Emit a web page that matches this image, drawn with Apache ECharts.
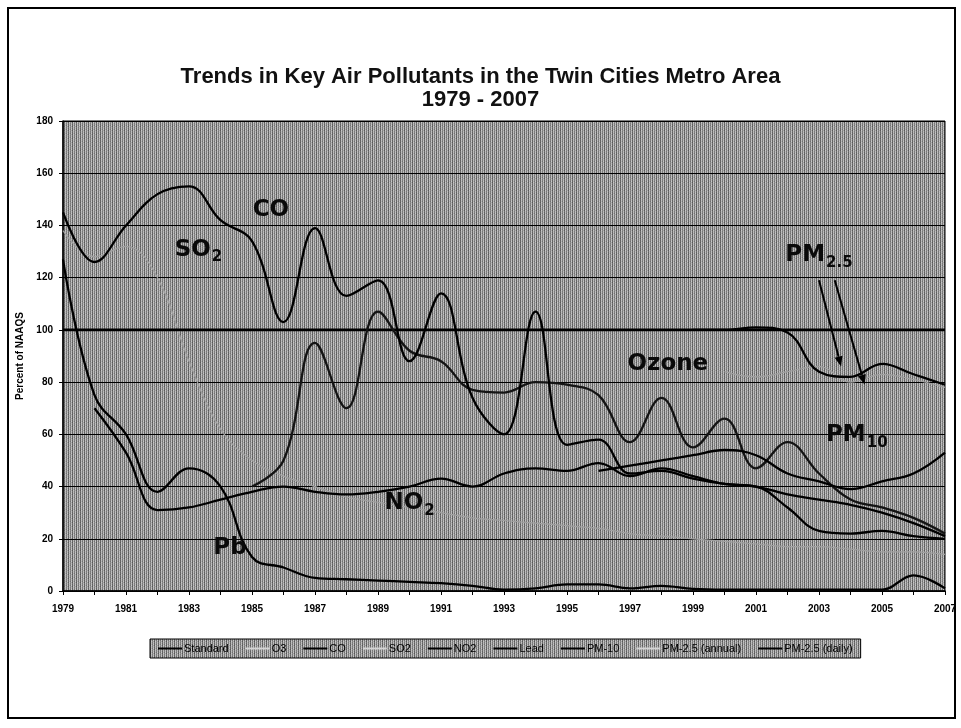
<!DOCTYPE html>
<html>
<head>
<meta charset="utf-8">
<script src="https://cdn.jsdelivr.net/npm/echarts/dist/echarts.min.js"></script>
<style>
html,body{margin:0;padding:0;background:#fff;}
#c{width:961px;height:728px;}
</style>
</head>
<body>
<div id="c"></div>
<script>
const years = ['1979','1980','1981','1982','1983','1984','1985','1986','1987','1988','1989','1990','1991','1992','1993','1994','1995','1996','1997','1998','1999','2000','2001','2002','2003','2004','2005','2006','2007'];
const yTicks = [0,20,40,60,80,100,120,140,160,180];

const standard = [100,100,100,100,100,100,100,100,100,100,100,100,100,100,100,100,100,100,100,100,100,100,100,100,100,100,100,100,100];
const o3 = [null,null,null,null,null,null,40,50,95,70,107,92,88,77,76,80,79,75,57,74,55,66,47,57,45,35,32,28,22];
const co = [145,126,140,152,155,142,134,103,139,113,119,88,114,74,60,107,56,58,45,46,43,41,40,37,35,33,30,26,21];
const so2 = [138,128,132,120,88,62,50,44,40,36,34,32,30,28,27,26,25,24,22,21,20,19,18,17,17,16,15,15,14];
const no2 = [null,70,53,31,32,35,38,40,38,37,38,40,43,40,45,47,46,49,44,47,44,41,40,32,23,22,23,21,20];
const lead = [127,75,60,38,47,40,13,9,5,4.5,4,3.5,3,2,0.5,1,2.5,2.5,1,2,0.8,0.5,0.5,0.5,0.5,0.5,0.5,6,1];
const pm10 = [null,null,null,null,null,null,null,null,null,null,null,null,null,null,null,null,null,46,48,50,52,54,52,45,42,39,42,45,53];
const pm25annual = [null,null,null,null,null,null,null,null,null,null,null,null,null,null,null,null,null,null,null,null,null,84,82,84,86,80,83,81,78];
const pm25daily = [null,null,null,null,null,null,null,null,null,null,null,null,null,null,null,null,null,null,null,null,100,100,101,99,84,82,87,83,79];

const seriesNames = ['Standard','O3','CO','SO2','NO2','Lead','PM-10','PM-2.5 (annual)','PM-2.5 (daily)'];

// annotation labels placed in data coordinates (year, percent)
const annotations = [
  {main:'CO', sub:'', year:1985.6, value:145},
  {main:'SO', sub:'2', year:1983.3, value:130},
  {main:'Ozone', sub:'', year:1998.2, value:86},
  {main:'NO', sub:'2', year:1990.0, value:33},
  {main:'Pb', sub:'', year:1984.3, value:15.5},
  {main:'PM', sub:'2.5', year:2003.0, value:128},
  {main:'PM', sub:'10', year:2004.2, value:59}
];
const arrows = [
  {from:[2003.0,119], to:[2003.7,86]},
  {from:[2003.5,119], to:[2004.45,79]}
];

// halftone-like texture for the scanned grey fills
function makeTexture() {
  const tones = [
    [0x60,0xc0,0x80,0xb8],
    [0x68,0xb0,0x70,0xc8],
    [0x58,0xc8,0x88,0xa8],
    [0x70,0xb8,0x78,0xc0]
  ];
  const c = document.createElement('canvas');
  c.width = 4; c.height = 4;
  const ctx = c.getContext('2d');
  for (let r = 0; r < 4; r++) {
    for (let k = 0; k < 4; k++) {
      const v = tones[r][k];
      ctx.fillStyle = 'rgb(' + v + ',' + v + ',' + v + ')';
      ctx.fillRect(k, r, 1, 1);
    }
  }
  return c;
}
const texture = makeTexture();

const chart = echarts.init(document.getElementById('c'), null, {renderer:'canvas'});
const FONT = 'Liberation Sans';

function lineSeries(name, data, lineColor, legendColor, width, smooth, z) {
  return {
    name: name, type: 'line', data: data,
    smooth: smooth, showSymbol: false, symbol: 'none',
    connectNulls: false, z: z,
    lineStyle: {color: lineColor, width: width},
    itemStyle: {color: legendColor},
    emphasis: {disabled: true}
  };
}

const option = {
  backgroundColor: '#ffffff',
  animation: false,
  title: {
    text: 'Trends in Key Air Pollutants in the Twin Cities Metro Area\n1979 - 2007',
    left: 'center', top: 60,
    textStyle: {fontFamily: FONT, fontSize: 22, fontWeight: 'bold', lineHeight: 23, color: '#111'}
  },
  grid: {
    left: 63, right: 16, top: 121, bottom: 137,
    show: true, backgroundColor: {image: texture, repeat: 'repeat'}, borderColor: '#000', borderWidth: 1
  },
  xAxis: {
    type: 'category', data: years, boundaryGap: false,
    axisLine: {lineStyle: {color: '#000', width: 1.5}},
    axisTick: {show: true, interval: 0, length: 4, lineStyle: {color: '#000'}},
    axisLabel: {interval: 1, fontFamily: FONT, fontWeight: 'bold', fontSize: 10, color: '#000', margin: 13},
    splitLine: {show: false}
  },
  yAxis: {
    type: 'value', min: yTicks[0], max: yTicks[yTicks.length-1], interval: 20,
    name: 'Percent of NAAQS', nameLocation: 'middle', nameGap: 36,
    nameTextStyle: {fontFamily: FONT, fontWeight: 'bold', fontSize: 10, color: '#000'},
    axisLine: {show: true, lineStyle: {color: '#000', width: 1.5}},
    axisTick: {show: true, length: 4, lineStyle: {color: '#000'}},
    axisLabel: {fontFamily: FONT, fontWeight: 'bold', fontSize: 10, color: '#000', margin: 10},
    splitLine: {show: true, lineStyle: {color: '#000', width: 1}}
  },
  legend: {
    data: seriesNames,
    left: 150, top: 639,
    backgroundColor: {image: texture, repeat: 'repeat'}, borderColor: '#000', borderWidth: 1,
    padding: [4, 8], itemGap: 17, itemWidth: 24, itemHeight: 2, icon: 'rect',
    textStyle: {fontFamily: FONT, fontSize: 11, color: '#000', padding: [0,0,0,-3]},
    selectedMode: false
  },
  series: [
    lineSeries('Standard', standard, '#000', '#000', 2.6, false, 3),
    lineSeries('O3', o3, '#141414', '#d4d4d4', 2.3, 0.4, 4),
    lineSeries('CO', co, '#000', '#000', 2.3, 0.4, 5),
    lineSeries('SO2', so2, '#a0a0a0', '#d4d4d4', 1.2, 0.4, 2),
    lineSeries('NO2', no2, '#000', '#000', 2.3, 0.4, 5),
    lineSeries('Lead', lead, '#000', '#000', 2.3, 0.4, 5),
    lineSeries('PM-10', pm10, '#000', '#000', 2.3, 0.4, 5),
    lineSeries('PM-2.5 (annual)', pm25annual, '#a0a0a0', '#d4d4d4', 1.2, 0.4, 2),
    lineSeries('PM-2.5 (daily)', pm25daily, '#000', '#000', 2.3, 0.4, 5)
  ]
};
chart.setOption(option);

function toPx(year, value) {
  const a = chart.convertToPixel({gridIndex: 0}, [years[0], value]);
  const b = chart.convertToPixel({gridIndex: 0}, [years[years.length-1], value]);
  const t = (year - Number(years[0])) / (years.length - 1);
  return [a[0] + (b[0] - a[0]) * t, a[1]];
}

const graphics = [];
graphics.push({
  type: 'rect', shape: {x: 8, y: 8, width: 947, height: 710},
  style: {fill: 'none', stroke: '#000', lineWidth: 2}, silent: true, z: 0
});
annotations.forEach(function (a) {
  const p = toPx(a.year, a.value);
  const txt = a.sub ? '{m|' + a.main + '}{s|' + a.sub + '}' : '{m|' + a.main + '}';
  graphics.push({
    type: 'text', x: p[0], y: p[1], z: 20, silent: true,
    style: {
      text: txt, align: 'center', verticalAlign: 'middle',
      rich: {
        m: {fontFamily: 'DejaVu Sans', fontWeight: 'bold', fontSize: 23, fill: '#0a0a0a', lineHeight: 27, verticalAlign: 'top'},
        s: {fontFamily: 'DejaVu Sans', fontWeight: 'bold', fontSize: 15, fill: '#0a0a0a', lineHeight: 27, verticalAlign: 'top', padding: [12, 0, 0, 1]}
      }
    }
  });
});
arrows.forEach(function (ar) {
  const p1 = toPx(ar.from[0], ar.from[1]);
  const p2 = toPx(ar.to[0], ar.to[1]);
  const dx = p2[0] - p1[0], dy = p2[1] - p1[1];
  const len = Math.sqrt(dx*dx + dy*dy);
  const ux = dx/len, uy = dy/len;
  const hx = p2[0] - ux*10, hy = p2[1] - uy*10;
  graphics.push({
    type: 'line', z: 20, silent: true,
    shape: {x1: p1[0], y1: p1[1], x2: hx, y2: hy},
    style: {stroke: '#000', lineWidth: 2}
  });
  graphics.push({
    type: 'polygon', z: 20, silent: true,
    shape: {points: [[p2[0], p2[1]], [hx - uy*4, hy + ux*4], [hx + uy*4, hy - ux*4]]},
    style: {fill: '#000'}
  });
});
chart.setOption({graphic: graphics});
</script>
</body>
</html>
